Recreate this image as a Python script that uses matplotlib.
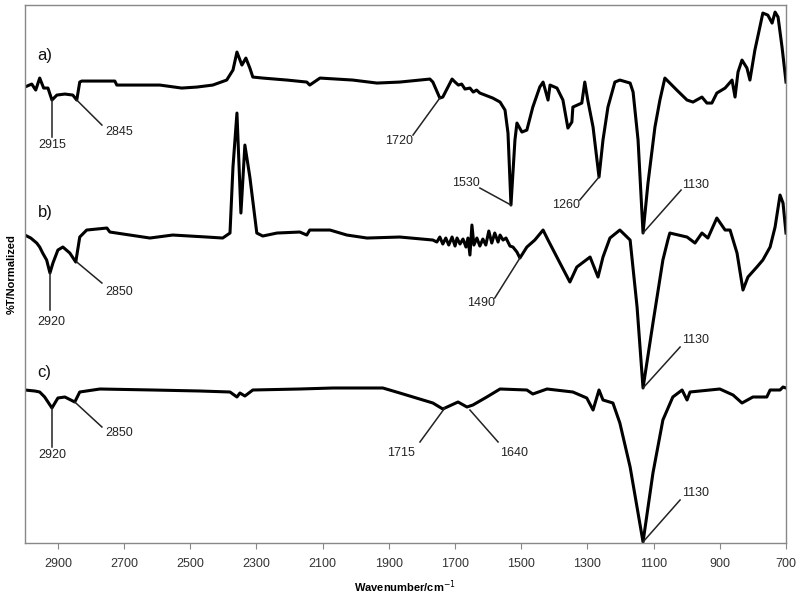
import matplotlib
matplotlib.use("Agg")
import matplotlib.pyplot as plt

plt.rcParams['font.family'] = ['Liberation Sans', 'DejaVu Sans']

# Spectrum a)
wn_a = [3000, 2979, 2967, 2955, 2943, 2930, 2918, 2909, 2903, 2879, 2855, 2843, 2834, 2828,
        2728, 2722, 2592, 2526, 2480, 2432, 2390, 2371, 2359, 2344, 2332, 2320, 2311, 2281,
        2208, 2148, 2139, 2108, 2009, 1936, 1867, 1776, 1767, 1746, 1737, 1709, 1700, 1690,
        1680, 1670, 1655, 1645, 1635,
        1625, 1586, 1564, 1549, 1540, 1531, 1519, 1513, 1498, 1483, 1465, 1444, 1434, 1419,
        1413, 1392, 1374, 1359, 1347, 1344, 1317, 1308, 1299, 1283, 1265, 1253, 1238, 1217,
        1202, 1171, 1162, 1147, 1132, 1117, 1096, 1081, 1066, 1051, 1030, 999, 981, 954,
        939, 924, 909, 884, 863, 854, 845, 833, 818, 809, 794, 779, 770, 755, 742, 733,
        724, 712, 703, 700]
t_a = [456, 459, 453, 465, 455, 455, 443, 446, 448, 449, 448, 443, 461, 462,
       462, 458, 458, 455, 456, 458, 463, 473, 491, 478, 485, 475, 466, 465,
       463, 461, 458, 465, 463, 460, 461, 464, 461, 445, 446, 464, 461, 458,
       459, 454, 455, 451, 453,
       450, 445, 441, 433, 410, 338, 403, 420, 411, 413, 436, 456, 461, 443,
       458, 455, 443, 415, 421, 436, 440, 461, 443, 416, 366, 403, 436, 461,
       463, 460, 451, 403, 310, 360, 416, 443, 465, 460, 453, 443, 441, 446,
       440, 440, 450, 455, 463, 446, 471, 483, 475, 463, 493, 516, 530, 528, 520, 531,
       526, 496, 470, 461]

# Spectrum b)
wn_b = [3000, 2982, 2964, 2955, 2946, 2934, 2924, 2915, 2900, 2885, 2864, 2846, 2834, 2813,
        2752, 2743, 2622, 2553, 2450, 2402, 2380, 2371, 2359, 2347, 2335, 2320, 2299, 2281,
        2238, 2169, 2148, 2139, 2078, 2027, 1966, 1867, 1767, 1755, 1746, 1737, 1728, 1719,
        1709, 1700, 1694, 1685, 1676, 1667, 1661, 1655, 1649, 1643, 1634, 1625, 1616, 1607,
        1598, 1589, 1580, 1570, 1564, 1555, 1546, 1534, 1525, 1513, 1504, 1483, 1459, 1434,
        1419, 1383, 1353, 1332, 1292, 1268, 1253, 1232, 1202, 1171, 1150, 1132, 1102, 1072,
        1057, 1051, 999, 975, 954, 936, 909, 884, 869, 848, 830, 815, 788, 770, 748, 733,
        718, 709, 700]
t_b = [308, 305, 300, 296, 290, 283, 270, 280, 293, 296, 290, 281, 306, 313,
       315, 311, 305, 308, 306, 305, 310, 376, 430, 330, 398, 366, 310, 307,
       310, 311, 308, 313, 313, 308, 305, 306, 303, 301, 306, 299, 305, 298,
       306, 297, 305, 299, 304, 296, 305, 288, 318, 298, 305, 297, 304, 298,
       312, 300, 310, 301, 308, 303, 305, 297, 296, 291, 285, 296, 303, 313,
       303, 280, 261, 276, 286, 266, 286, 305, 313, 303, 236, 155, 220, 283,
       303, 310, 306, 300, 310, 305, 325, 313, 313, 290, 253, 266, 276, 283, 296, 316,
       348, 340, 310]

# Spectrum c)
wn_c = [3000, 2970, 2955, 2940, 2918, 2900, 2879, 2849, 2834, 2773, 2613, 2471, 2380, 2359,
        2350, 2335, 2311, 2169, 2069, 1966, 1918, 1867, 1767, 1737, 1691, 1664, 1646, 1604,
        1564, 1483, 1465, 1422, 1344, 1302, 1283, 1265, 1253, 1223, 1202, 1171, 1132, 1102,
        1072, 1042, 1014, 999, 990, 900, 860, 833, 800, 758, 748, 718, 709, 700]
t_c = [153, 152, 151, 146, 135, 145, 146, 141, 151, 154, 153, 152, 151, 146,
       150, 147, 153, 154, 155, 155, 155, 150, 140, 134, 141, 136, 138, 146,
       154, 153, 149, 154, 151, 145, 133, 153, 143, 140, 120, 76, 1, 70,
       123, 146, 153, 143, 151, 154, 148, 140, 146, 146, 153, 153, 156, 155]

# Trace labels
trace_labels = ['a)', 'b)', 'c)']
trace_label_pos = [(2961, 488), (2961, 331), (2961, 171)]

# Peak annotations: text, peak point, line end, text position, alignment
peak_text = ['2915', '2845', '1720', '1530', '1260', '1130',
             '2920', '2850', '1490', '1130',
             '2920', '2850', '1715', '1640', '1130']
peak_xy = [(2918, 443), (2843, 443), (1746, 445), (1531, 338), (1265, 366), (1132, 310),
           (2924, 270), (2843, 281), (1504, 285), (1132, 155),
           (2918, 135), (2849, 141), (1731, 135), (1655, 133), (1132, 1)]
line_end = [(2918, 406), (2767, 418), (1827, 408), (1625, 355), (1323, 343), (1017, 353),
            (2924, 233), (2767, 260), (1580, 245), (1020, 196),
            (2918, 96), (2767, 116), (1806, 101), (1570, 101), (1020, 43)]
text_xy = [(2918, 398), (2758, 411), (1827, 402), (1625, 360), (1323, 338), (1014, 358),
           (2921, 221), (2758, 251), (1580, 240), (1014, 203),
           (2918, 88), (2758, 110), (1821, 90), (1564, 90), (1014, 50)]
text_ha = ['center', 'left', 'right', 'right', 'right', 'left',
           'center', 'left', 'right', 'left',
           'center', 'left', 'right', 'left', 'left']

xticks = [2900, 2700, 2500, 2300, 2100, 1900, 1700, 1500, 1300, 1100, 900, 700]

fig = plt.figure(figsize=(8, 5.97), dpi=100)
ax = fig.add_axes([0.031, 0.0905, 0.9515, 0.901])

for wn, t in [(wn_a, t_a), (wn_b, t_b), (wn_c, t_c)]:
    ax.plot(wn, t, color='black', lw=2.2, solid_joinstyle='round')

for lab, (x, y) in zip(trace_labels, trace_label_pos):
    ax.text(x, y, lab, fontsize=12, color='#111', ha='left', va='center')

for txt, p, e, tp, ha in zip(peak_text, peak_xy, line_end, text_xy, text_ha):
    ax.plot([p[0], e[0]], [p[1], e[1]], color='#222', lw=1.1)
    ax.text(tp[0], tp[1], txt, fontsize=9, color='#222', ha=ha, va='center')

ax.set_xlim(3000, 700)
ax.set_ylim(0, 538)
ax.set_xticks(xticks)
ax.set_xticklabels([str(v) for v in xticks], fontsize=9, color='#333')
ax.set_yticks([])
ax.tick_params(axis='x', direction='out', length=4, color='#888', pad=7)
for s in ax.spines.values():
    s.set_color('#888')
    s.set_linewidth(1.0)

ax.set_xlabel('Wavenumber/cm$^{-1}$', fontsize=8, fontweight='bold', labelpad=6)
ax.set_ylabel('%T/Normalized', fontsize=8, fontweight='bold', labelpad=6)

fig.savefig('out.png', dpi=100)
